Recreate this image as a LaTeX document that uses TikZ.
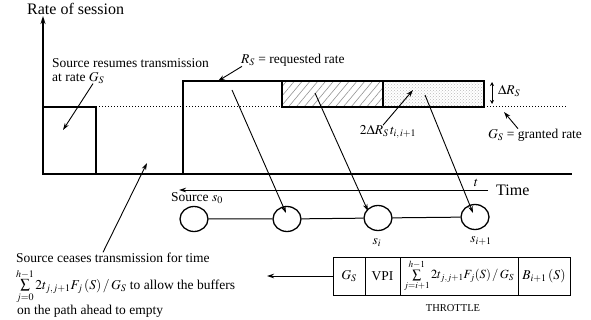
\documentclass[tikz,border=0pt]{standalone}
\usepackage{mathptmx}
\usepackage[no-math]{fontspec}
\setmainfont{Liberation Serif}
\usetikzlibrary{arrows.meta,patterns,patterns.meta,shapes.geometric}
\begin{document}
\begin{tikzpicture}[x=1pt,y=-1pt,
  thickln/.style={line width=1.5pt},
  arr/.style={line width=0.9pt,-{Stealth[length=7pt,width=4.5pt]}},
  lbl/.style={font=\fontsize{13.5}{14}\selectfont, inner sep=0pt},
  big/.style={font=\fontsize{16}{18}\selectfont, inner sep=0pt},
  nodec/.style={ellipse,draw,line width=1.3pt,minimum width=28pt,minimum height=25pt,inner sep=0pt},
  cell/.style={draw,line width=1pt,minimum height=38pt,inner sep=0pt,font=\fontsize{13.5}{15}\selectfont}]
\useasboundingbox (0,0) rectangle (591,320);

% axes
\node[big,anchor=west] (rate) at (27,9) {Rate of session};
\coordinate (yb) at (43,175);
\coordinate (yt) at (43,16);
\draw[line width=1.5pt,-{Stealth[length=8pt,width=5pt]}] (yb) -- (yt);
\coordinate (tl) at (42,174);
\coordinate (tr) at (572,174);
\draw[thickln] (tl) -- (tr);

% rate profile
\fill[pattern={Lines[angle=50,distance=6pt,line width=0.6pt]}, pattern color=gray!85] (282,81) rectangle (383,107);
\fill[pattern=crosshatch dots, pattern color=gray!55] (383,81) rectangle (484,107);
\draw[thickln] (43,107) -- (96,107) -- (96,174);
\draw[thickln] (183,174) -- (183,81) -- (484,81) -- (484,107) -- (282,107) -- (282,81);
\draw[thickln] (383,81) -- (383,107);
\draw[dotted, line width=1pt] (96,107) -- (282,107);
\draw[dotted, line width=1pt] (484,107) -- (567,107);

% labels top
\node[lbl,anchor=west] (rs) at (241,60) {$R_S$ = requested rate};
\coordinate (rsTip) at (218,81);
\draw[arr] ([xshift=1pt]rs.south west) -- (rsTip);

\node[lbl,anchor=north west,align=left] (resume) at (52,58) {Source resumes transmission\\at rate $G_S$};
\coordinate (resumeTip) at (63,130);
\draw[arr] ([xshift=41pt]resume.south west) -- (resumeTip);

\coordinate (dra) at (492,82);
\coordinate (drb) at (492,104);
\draw[line width=1pt,{Stealth[length=4pt,width=4pt]}-{Stealth[length=4pt,width=4pt]}] (dra) -- (drb);
\node[lbl,anchor=west] (dR) at (498,91) {$\Delta R_S$};

\node[lbl,anchor=west] (gs) at (488,135) {$G_S$ = granted rate};
\coordinate (gsTip) at (504,112);
\draw[arr] ([xshift=30pt]gs.north west) -- (gsTip);

\node[lbl] (twodr) at (388,132) {$2\Delta R_S\,t_{i,\,i+1}$};
\coordinate (dotTip) at (413,90);
\draw[arr] ([xshift=-5pt]twodr.north) -- (dotTip);

% network
\node[nodec] (c0) at (194,219) {};
\node[nodec] (c1) at (287,219) {};
\node[nodec] (c2) at (378,218) {};
\node[nodec] (c3) at (475,217) {};
\draw[line width=1pt] (c0) -- (c1) -- (c2) -- (c3);

\node[lbl] (src) at (197,198) {Source $s_0$};
\node[lbl] (si) at (377,243) {$s_i$};
\node[lbl] (sii) at (481,241) {$s_{i+1}$};

\coordinate (tS) at (488,190);
\coordinate (tE) at (179,190);
\draw[arr] (tS) -- (tE);
\node[lbl] (tlab) at (476,183) {$t$};
\node[big,anchor=west] (time) at (496,190) {Time};

% mapping arrows
\coordinate (a1) at (232,90);
\coordinate (a1t) at (286,213);
\draw[arr] (a1) -- (a1t);
\coordinate (a2) at (315,93);
\coordinate (a2t) at (368,211);
\draw[arr] (a2) -- (a2t);
\coordinate (a3) at (425,95);
\coordinate (a3t) at (473,213);
\draw[arr] (a3) -- (a3t);

% source ceases
\node[lbl,anchor=base west] (cease) at (16,262) {Source ceases transmission for time};
\node[lbl,anchor=base west] (cease2) at (16,289) {$\sum\limits_{j=0}^{h-1}2t_{j,j+1}F_j\,(S)\,/\,G_S$ to allow the buffers};
\node[lbl,anchor=base west] (cease3) at (17,314) {on the path ahead to empty};
\coordinate (ceaseTip) at (147,163);
\draw[arr] ([xshift=87pt]cease.north west) -- (ceaseTip);

% throttle
\node[cell,minimum width=32pt] (g) at (349,276) {$G_S$};
\node[cell,minimum width=35pt] (vpi) at (382.5,276) {VPI};
\node[cell,minimum width=118pt,font=\fontsize{12.5}{14}\selectfont] (sm) at (459,276) {$\sum\limits_{j=i+1}^{h-1}2t_{j,j+1}F_j(S)\,/\,G_S$};
\node[cell,minimum width=52pt] (b) at (544,276) {$B_{i+1}\,(S)$};
\node[lbl,font=\fontsize{10.5}{12}\selectfont] (thr) at (453,308) {THROTTLE};
\coordinate (thrTip) at (267,276);
\draw[arr] (g.west) -- (thrTip);
\end{tikzpicture}
\end{document}
